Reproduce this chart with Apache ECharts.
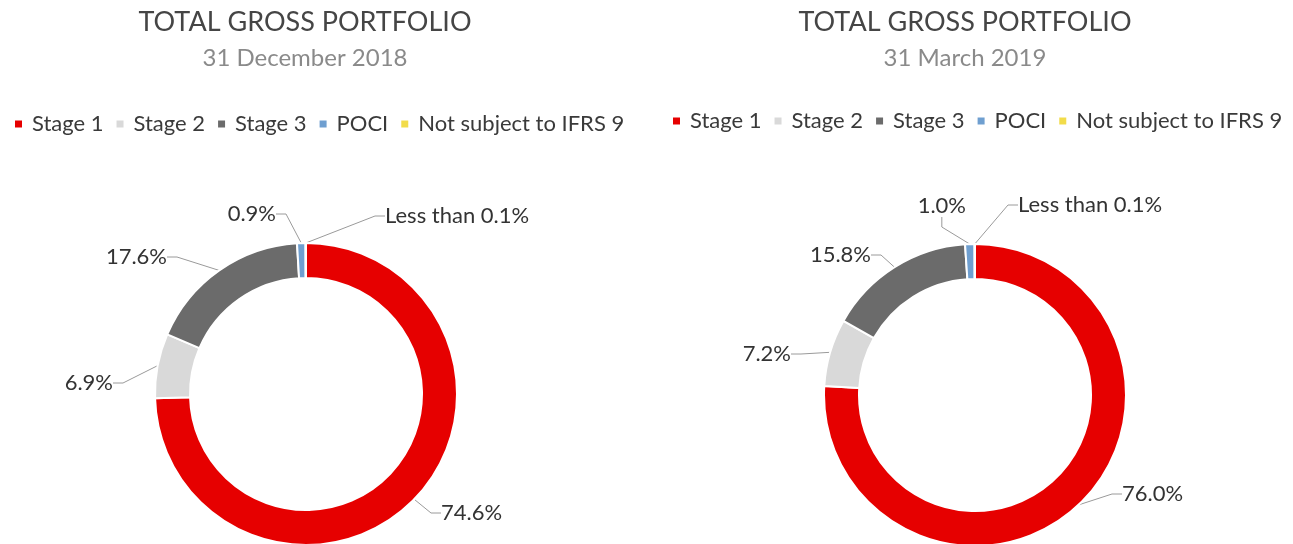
<!DOCTYPE html>
<html>
<head>
<meta charset="utf-8">
<script src="https://cdn.jsdelivr.net/npm/echarts@6/dist/echarts.min.js"></script>
<style>
  html, body { margin: 0; padding: 0; background: #fff; }
  #chart { width: 1293px; height: 544px; }
</style>
</head>
<body>
<div id="chart"></div>
<script>
const stages = ["Stage 1", "Stage 2", "Stage 3", "POCI", "Not subject to IFRS 9"]
const dec2018 = [74.6, 6.9, 17.6, 0.9, 0.05]
const mar2019 = [76.0, 7.2, 15.8, 1.0, 0.05]
const periods = ["31 December 2018", "31 March 2019"]

const stageColors = ["#e60000", "#d9d9d9", "#6b6b6b", "#6f9fd0", "#f2dc4a"]
const font = "Lato, 'Open Sans', sans-serif"

// where each label sits (x, y, align) — placement only, not data
const labelSpots = [
  [[441, 513, "left"], [113, 383, "right"], [167, 257, "right"], [276, 214, "right"], [385, 216, "left"]],
  [[1122, 494, "left"], [791, 354, "right"], [871, 255, "right"], [966, 206, "right"], [1018, 205, "left"]]
]
const centers = [[306, 394], [975, 395]]

const fmtPct = (v) => v < 0.1 ? "Less than 0.1%" : v.toFixed(1) + "%"

const makePie = (values, idx) => ({
  name: periods[idx],
  type: "pie",
  center: centers[idx],
  radius: [116, 151],
  startAngle: 90,
  clockwise: true,
  avoidLabelOverlap: false,
  itemStyle: { borderColor: "#fff", borderWidth: 2 },
  label: {
    show: true,
    position: "outside",
    formatter: (p) => fmtPct(p.value),
    color: "#333",
    fontSize: 22,
    fontFamily: font
  },
  labelLine: {
    show: true,
    length: 12,
    length2: 10,
    lineStyle: { color: "#9a9a9a", width: 1 }
  },
  labelLayout: (p) => {
    const s = labelSpots[idx][p.dataIndex]
    return { x: s[0], y: s[1], align: s[2], verticalAlign: "middle" }
  },
  emphasis: { disabled: true },
  data: stages.map((n, i) => ({ name: n, value: values[i] }))
})

const legendBase = {
  data: stages,
  icon: "rect",
  itemWidth: 9,
  itemHeight: 9,
  itemGap: 11,
  width: 640,
  selectedMode: false,
  textStyle: { fontSize: 22, color: "#3a3a3a", fontFamily: font, padding: [0, 0, 0, 4] }
}

const titleBase = {
  textAlign: "center",
  top: 4,
  itemGap: 10,
  textStyle: { fontSize: 27, fontWeight: "normal", color: "#454545", fontFamily: font },
  subtextStyle: { fontSize: 24, color: "#8a8a8a", fontFamily: font }
}

const myChart = echarts.init(document.getElementById("chart"))
myChart.setOption({
  animation: false,
  color: stageColors,
  title: [
    { ...titleBase, text: "TOTAL GROSS PORTFOLIO", subtext: periods[0], left: 300 },
    { ...titleBase, text: "TOTAL GROSS PORTFOLIO", subtext: periods[1], left: 960 }
  ],
  legend: [
    { ...legendBase, left: 8, top: 108 },
    { ...legendBase, left: 666, top: 105 }
  ],
  series: [makePie(dec2018, 0), makePie(mar2019, 1)]
})
</script>
</body>
</html>
